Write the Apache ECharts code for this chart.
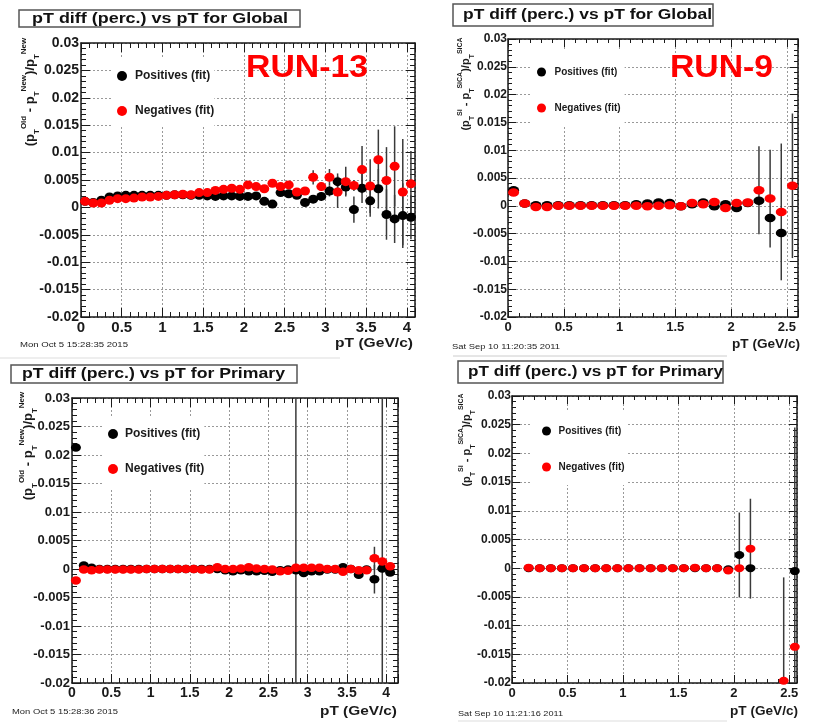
<!DOCTYPE html>
<html><head><meta charset="utf-8">
<script src="https://cdn.jsdelivr.net/npm/echarts@6/dist/echarts.min.js"></script>
<style>html,body{margin:0;padding:0;background:#fff}#c{width:814px;height:722px}</style>
</head><body><div id="c"></div>
<script>
// ---------- DATA ----------
const ptR13 = [0.05,0.15,0.25,0.35,0.45,0.55,0.65,0.75,0.85,0.95,1.05,1.15,1.25,1.35,1.45,1.55,1.65,1.75,1.85,1.95,2.05,2.15,2.25,2.35,2.45,2.55,2.65,2.75,2.85,2.95,3.05,3.15,3.25,3.35,3.45,3.55,3.65,3.75,3.85,3.95,4.05];
const ptR9Global = [0.05,0.15,0.25,0.35,0.45,0.55,0.65,0.75,0.85,0.95,1.05,1.15,1.25,1.35,1.45,1.55,1.65,1.75,1.85,1.95,2.05,2.15,2.25,2.35,2.45,2.55];
const ptR9Primary = [0.15,0.25,0.35,0.45,0.55,0.65,0.75,0.85,0.95,1.05,1.15,1.25,1.35,1.45,1.55,1.65,1.75,1.85,1.95,2.05,2.15,2.25,2.35,2.45,2.55];

// RUN-13, Global
const globalR13Pos = [0.0011,0.0009,0.0013,0.0019,0.0021,0.0022,0.0022,0.0022,0.0022,0.0022,0.0022,0.0023,0.0023,0.0022,0.0022,0.0021,0.0020,0.0021,0.0021,0.0020,0.0020,0.0021,0.0011,0.0006,0.0027,0.0025,0.0022,0.0009,0.0015,0.0020,0.0030,0.0047,0.0037,-0.0004,0.0035,0.0012,0.0034,-0.0013,-0.0021,-0.0015,-0.0018];
const globalR13Neg = [0.0011,0.0008,0.0008,0.0013,0.0016,0.0016,0.0017,0.0019,0.0019,0.0020,0.0022,0.0023,0.0024,0.0023,0.0027,0.0027,0.0031,0.0033,0.0035,0.0033,0.0041,0.0038,0.0034,0.0044,0.0038,0.0041,0.0028,0.0030,0.0055,0.0038,0.0055,0.0028,0.0047,0.0040,0.0069,0.0039,0.0087,0.0049,0.0075,0.0028,0.0043];
const globalR13PosErr = [0,0,0,0,0,0,0,0,0,0,0,0,0,0,0,0,0,0,0,0,0,0,0,0,0,0,0,0,0.0005,0.0008,0.0010,0.0015,0.0015,0.0024,0.0027,0.0029,0.0036,0.0046,0.0044,0.0059,0.0040];
const globalR13NegErr = [0,0,0,0,0,0,0,0,0,0,0,0,0,0,0,0,0,0,0,0,0,0,0,0,0,0,0,0,0.0013,0.0008,0.0015,0.0029,0.0027,0.0010,0.0043,0.0049,0.0055,0.0061,0.0073,0.0097,0.0060];

// RUN-9, Global
const globalR9Pos = [0.0028,0.0004,0.0001,0.0001,0.0001,0.0001,0.0001,0.0001,0.0001,0.0001,0.0001,0.0003,0.0004,0.0006,0.0005,-0.0001,0.0003,0.0006,-0.0001,0.0003,-0.0004,0.0005,0.0009,-0.0022,-0.0049,null];
const globalR9Neg = [0.0024,0.0004,-0.0002,-0.0002,0,0,0,0,0,0,0,0,-0.0001,0,0.0001,-0.0001,0.0005,0.0003,0.0007,-0.0004,0.0005,0.0006,0.0028,0.0013,-0.0011,0.0036];
const globalR9PosErr = [0,0,0,0,0,0,0,0,0,0,0,0,0,0,0,0,0,0,0,0,0,0,0,0,0,0];
const globalR9NegErr = [0,0,0,0,0,0,0,0,0,0,0,0,0,0,0,0,0,0,0,0,0,0,0.0079,0.0088,0.0123,0.0130];

// RUN-13, Primary
const primaryR13Pos = [0.0213,0.0006,0.0002,0,0,0,0,0,0,0,0,0,0,0,0,0,0,0,0,-0.0002,-0.0004,-0.0002,-0.0004,-0.0004,-0.0003,-0.0005,-0.0002,-0.0001,-0.0002,-0.0007,-0.0004,-0.0004,-0.0001,-0.0001,0.0003,0,-0.0010,-0.0001,-0.0018,0.0001,-0.0006];
const primaryR13Neg = [-0.0020,-0.0001,-0.0002,-0.0001,-0.0001,-0.0001,-0.0001,-0.0001,-0.0001,0,0,0,0,0,0,0,-0.0001,-0.0001,0.0003,0,0,0.0001,0.0003,0.0001,0,-0.0001,-0.0004,-0.0003,0.0002,0.0002,0.0002,0.0002,0,0,-0.0005,0,-0.0002,-0.0002,0.0019,0.0013,0.0005];
const primaryR13PosErr = [0,0,0,0,0,0,0,0,0,0,0,0,0,0,0,0,0,0,0,0,0,0,0,0,0,0,0,0,0,0,0,0,0,0,0,0,0,0,0.0025,0.06,0];
const primaryR13NegErr = [0,0,0,0,0,0,0,0,0,0,0,0,0,0,0,0,0,0,0,0,0,0,0,0,0,0,0,0,0.06,0,0,0,0,0,0,0,0,0,0.0020,0,0];

// RUN-9, Primary
const primaryR9Pos = [0,0,0,0,0,0,0,0,0,0,0,0,0,0,0,0,0,0,-0.0002,0.0023,0,null,null,null,-0.0005];
const primaryR9Neg = [0.0001,0,0,0,0,0,0,0,0,0,0,0,0,0,0,0.0001,0,0,-0.0004,0,0.0034,null,null,-0.0196,-0.0137];
const primaryR9PosErr = [0,0,0,0,0,0,0,0,0,0,0,0,0,0,0,0,0,0,0,0.0074,0,0,0,0,0.025];
const primaryR9NegErr = [0,0,0,0,0,0,0,0,0,0,0,0,0,0,0,0,0,0,0,0,0.0087,0,0,0.018,0];

const yTickMin = -0.02, yTickMax = 0.03, yTickStep = 0.005, xTickStep = 0.5;
const posName = 'Positives (fit)', negName = 'Negatives (fit)';

// ---------- LAYOUT ----------
const FF = "'Liberation Sans', Arial, Helvetica, sans-serif";
const INK = '#1a1a1a';
const panels = [
  {grid:{left:81,top:43,width:334,height:274}, xmax:4.1, xs:ptR13, pos:globalR13Pos, neg:globalR13Neg, pe:globalR13PosErr, ne:globalR13NegErr,
   xFont:15, yFont:14, xMargin:3, yMargin:2, tick:9, sym:[10,9],
   lg:{left:113, top:57, pad:[12,0,9,4], iw:16, ih:10, gap:21, font:12}},
  {grid:{left:508,top:39,width:290,height:278}, xmax:2.6, xs:ptR9Global, pos:globalR9Pos, neg:globalR9Neg, pe:globalR9PosErr, ne:globalR9NegErr,
   xFont:13, yFont:12, xMargin:4, yMargin:1, tick:8, sym:[11,8.5],
   lg:{left:530, top:50, pad:[15,4,10,7], iw:16, ih:9, gap:22, font:10}},
  {grid:{left:72,top:398,width:326,height:285}, xmax:4.15, xs:ptR13, pos:primaryR13Pos, neg:primaryR13Neg, pe:primaryR13PosErr, ne:primaryR13NegErr,
   xFont:14, yFont:13, xMargin:3, yMargin:2, tick:9, sym:[10,8.5],
   lg:{left:103, top:417, pad:[10,0,12,5], iw:14, ih:10, gap:21, font:12}},
  {grid:{left:512,top:396,width:285,height:287}, xmax:2.57, xs:ptR9Primary, pos:primaryR9Pos, neg:primaryR9Neg, pe:primaryR9PosErr, ne:primaryR9NegErr,
   xFont:13, yFont:12, xMargin:4, yMargin:1, tick:8, sym:[10,8],
   lg:{left:532, top:410, pad:[14,2,11,10], iw:14, ih:9, gap:22, font:10}}
];

const grids = [], xAxes = [], yAxes = [], series = [], legends = [];
const ELLIPSE = 'path://M0,5A5,5 0 1,0 10,5A5,5 0 1,0 0,5Z';

function fmtX(v){ const r = v / xTickStep; return Math.abs(r - Math.round(r)) < 1e-6 ? String(+v.toFixed(3)) : ''; }
function fmtY(v){ return String(+v.toFixed(4)); }

panels.forEach((p, i) => {
  grids.push(p.grid);
  const lineS = {show:true, onZero:false, lineStyle:{color:INK, width:1.5}};
  const tickS = {show:true, inside:true, length:p.tick, lineStyle:{color:INK, width:1}};
  const minorS = {show:true, splitNumber:5, length:Math.round(p.tick/2), lineStyle:{color:INK, width:1}};
  const gridS = {show:true, lineStyle:{color:'#999', width:1, type:[2,2]}};
  xAxes.push({gridIndex:i, type:'value', position:'bottom', min:0, max:p.xmax, interval:xTickStep,
    axisLine:lineS, axisTick:tickS, minorTick:minorS, splitLine:gridS,
    axisLabel:{margin:p.xMargin, fontSize:p.xFont, fontWeight:'bold', fontFamily:FF, color:INK, formatter:fmtX, showMaxLabel:false}});
  xAxes.push({gridIndex:i, type:'value', position:'top', min:0, max:p.xmax, interval:xTickStep,
    axisLine:lineS, axisTick:tickS, minorTick:minorS, splitLine:{show:false}, axisLabel:{show:false}});
  yAxes.push({gridIndex:i, type:'value', position:'left', min:yTickMin, max:yTickMax, interval:yTickStep,
    axisLine:lineS, axisTick:tickS, minorTick:minorS, splitLine:gridS,
    axisLabel:{margin:p.yMargin, fontSize:p.yFont, fontWeight:'bold', fontFamily:FF, color:INK, formatter:fmtY}});
  yAxes.push({gridIndex:i, type:'value', position:'right', min:yTickMin, max:yTickMax, interval:yTickStep,
    axisLine:lineS, axisTick:tickS, minorTick:minorS, splitLine:{show:false}, axisLabel:{show:false}});

  const xi = 2*i, yi = 2*i;
  function errData(ys, es){ const d=[]; p.xs.forEach((x,k)=>{ if(ys[k]!=null && es[k]>0) d.push([x, ys[k], es[k]]); }); return d; }
  function ptData(ys){ const d=[]; p.xs.forEach((x,k)=>{ if(ys[k]!=null) d.push([x, ys[k]]); }); return d; }
  [[p.pos,p.pe],[p.neg,p.ne]].forEach(([ys,es]) => {
    series.push({type:'custom', xAxisIndex:xi, yAxisIndex:yi, clip:true, silent:true, z:2,
      data:errData(ys,es), encode:{x:0, y:1},
      renderItem:(params, api) => {
        const x = api.value(0), y = api.value(1), e = api.value(2);
        const a = api.coord([x, y + e]), b = api.coord([x, y - e]);
        return {type:'line', shape:{x1:a[0], y1:a[1], x2:b[0], y2:b[1]}, style:{stroke:'#3a3a3a', lineWidth:1.5}};
      }});
  });
  series.push({type:'scatter', name:posName, xAxisIndex:xi, yAxisIndex:yi, symbol:ELLIPSE, symbolSize:p.sym, z:3,
    itemStyle:{color:'#000', opacity:1}, emphasis:{disabled:true}, data:ptData(p.pos)});
  series.push({type:'scatter', name:negName, xAxisIndex:xi, yAxisIndex:yi, symbol:ELLIPSE, symbolSize:p.sym, z:4,
    itemStyle:{color:'#ff0000', opacity:1}, emphasis:{disabled:true}, data:ptData(p.neg)});
  legends.push({left:p.lg.left, top:p.lg.top, orient:'vertical', backgroundColor:'#fff', padding:p.lg.pad,
    itemGap:p.lg.gap, itemWidth:p.lg.iw, itemHeight:p.lg.ih, selectedMode:false,
    textStyle:{fontSize:p.lg.font, fontWeight:'bold', fontFamily:FF, color:INK, lineHeight:14},
    data:[{name:posName, icon:'circle', itemStyle:{color:'#000', opacity:1}}, {name:negName, icon:'circle', itemStyle:{color:'#ff0000', opacity:1}}]});
});

// ---------- TEXT / DECORATION ----------
const mctx = document.createElement('canvas').getContext('2d');
function fitText(text, font, x, cy, w, fill, align){
  mctx.font = font;
  const s = w / mctx.measureText(text).width;
  return {type:'text', x:x, y:cy, scaleX:s, z:100, style:{text:text, font:font, fill:fill, align:align||'left', verticalAlign:'middle'}};
}
function titleBox(x,y,w,h){ return {type:'rect', z:90, shape:{x:x,y:y,width:w,height:h}, style:{fill:'#fff', stroke:'#555', lineWidth:1.5}}; }
function yName(text, cx, cy, base, small){
  return {type:'text', x:cx, y:cy, rotation:Math.PI/2, z:100, style:{text:text, font:'bold '+base+'px '+FF, fill:INK, align:'center', verticalAlign:'middle', lineHeight:base+8,
    rich:{sup:{fontSize:small, fontWeight:'bold', fontFamily:FF, fill:INK, verticalAlign:'top', lineHeight:small+2},
          sub:{fontSize:small, fontWeight:'bold', fontFamily:FF, fill:INK, verticalAlign:'bottom', lineHeight:small+2}}}};
}
const TF = 'bold 15px ' + FF;
const AF = 'bold 13px ' + FF;
const SF = '8px ' + FF;
const elements = [
  {type:'line', shape:{x1:0,y1:358,x2:340,y2:358}, style:{stroke:'#ddd', lineWidth:1}},
  {type:'line', shape:{x1:453,y1:356,x2:727,y2:356}, style:{stroke:'#ccc', lineWidth:1}},
  {type:'line', shape:{x1:458,y1:721,x2:727,y2:721}, style:{stroke:'#ddd', lineWidth:1}},
  titleBox(19,10,281,17), fitText('pT diff (perc.) vs pT for Global', TF, 32, 18.5, 256, '#111'),
  titleBox(453,4,260,22), fitText('pT diff (perc.) vs pT for Global', TF, 463, 15, 249, '#111'),
  titleBox(11,365,286,18), fitText('pT diff (perc.) vs pT for Primary', TF, 22, 374, 263, '#111'),
  titleBox(458,361,265,22), fitText('pT diff (perc.) vs pT for Primary', TF, 468, 372, 255, '#111'),
  fitText('RUN-13', 'bold 32px ' + FF, 246, 68.5, 122, '#ff0000'),
  fitText('RUN-9', 'bold 32px ' + FF, 670, 68.5, 103, '#ff0000'),
  fitText('pT (GeV/c)', AF, 413, 343, 78, INK, 'right'),
  fitText('pT (GeV/c)', AF, 800, 344, 68, INK, 'right'),
  fitText('pT (GeV/c)', AF, 397, 711, 77, INK, 'right'),
  fitText('pT (GeV/c)', AF, 798, 711, 68, INK, 'right'),
  fitText('Mon Oct 5 15:28:35 2015', SF, 20, 345, 108, '#222'),
  fitText('Sat Sep 10 11:20:35 2011', SF, 452, 346.5, 108, '#222'),
  fitText('Mon Oct 5 15:28:36 2015', SF, 12, 712, 106, '#222'),
  fitText('Sat Sep 10 11:21:16 2011', SF, 458, 713.5, 105, '#222'),
  yName('(p{sub|T}{sup|Old} - p{sub|T}{sup|New})/p{sub|T}{sup|New}', 30, 92, 13, 8),
  yName('(p{sub|T}{sup|Si} - p{sub|T}{sup|SiCA})/p{sub|T}{sup|SiCA}', 466, 84, 11, 7),
  yName('(p{sub|T}{sup|Old} - p{sub|T}{sup|New})/p{sub|T}{sup|New}', 28, 446, 13, 8),
  yName('(p{sub|T}{sup|Si} - p{sub|T}{sup|SiCA})/p{sub|T}{sup|SiCA}', 467, 440, 11, 7)
];

const chart = echarts.init(document.getElementById('c'), null, {renderer:'canvas'});
chart.setOption({
  animation:false,
  backgroundColor:'#fff',
  grid:grids, xAxis:xAxes, yAxis:yAxes, series:series, legend:legends,
  graphic:{elements:elements}
});
</script></body></html>
